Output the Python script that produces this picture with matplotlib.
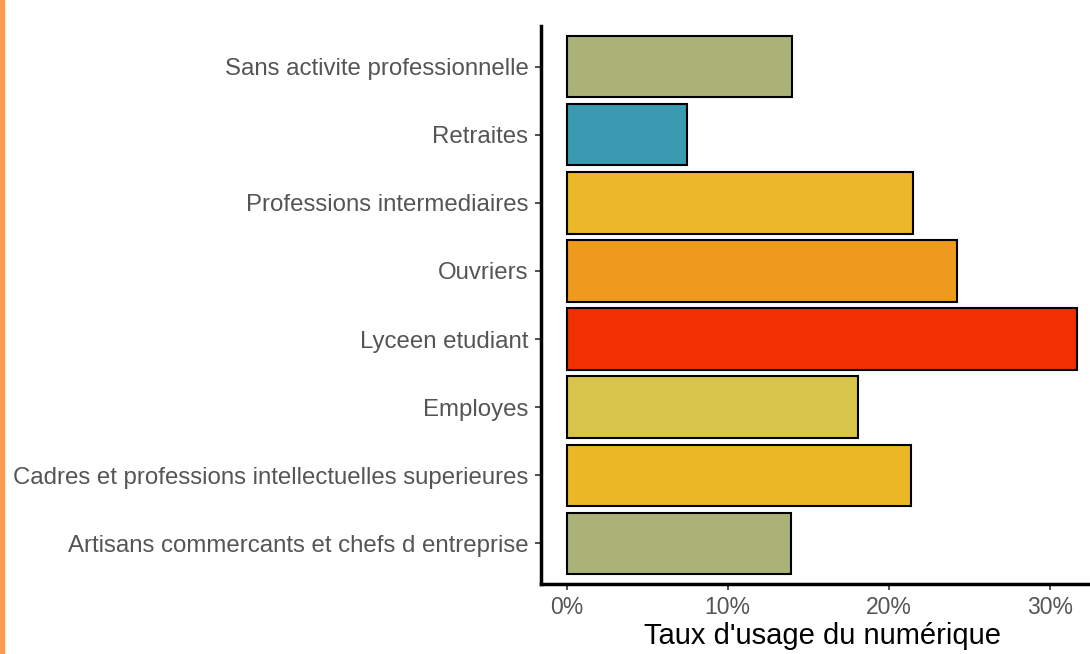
import matplotlib.pyplot as plt
from matplotlib.ticker import FuncFormatter

# categories from bottom to top
categories = [
    "Artisans commercants et chefs d entreprise",
    "Cadres et professions intellectuelles superieures",
    "Employes",
    "Lyceen etudiant",
    "Ouvriers",
    "Professions intermediaires",
    "Retraites",
    "Sans activite professionnelle",
]
rates = [13.9, 21.4, 18.1, 31.7, 24.2, 21.5, 7.5, 14.0]
colors = ["#ABB277", "#EBB727", "#D9C44B", "#F22F00", "#EE9A1F", "#EBB829", "#3A9AB2", "#ABB277"]
xticks = [0, 10, 20, 30]

plt.rcParams['font.family'] = ['Liberation Sans', 'DejaVu Sans']

fig = plt.figure(figsize=(10.9, 6.54), dpi=100)
ax = fig.add_axes([541 / 1090, 1 - 584 / 654, (1103 - 541) / 1090, (584 - 26) / 654])

ypos = list(range(len(categories)))
ax.barh(ypos, rates, height=0.9, color=colors, edgecolor="black", linewidth=1.5)

m = max(rates)
ax.set_xlim(-0.05 * m, 1.05 * m)
ax.set_ylim(-0.6, len(categories) - 0.4)
ax.set_yticks(ypos)
ax.set_yticklabels(categories)
ax.set_xticks(xticks)
ax.xaxis.set_major_formatter(FuncFormatter(lambda v, p: f"{v:.0f}%"))

for s in ["top", "right"]:
    ax.spines[s].set_visible(False)
for s in ["left", "bottom"]:
    ax.spines[s].set_linewidth(2.5)
ax.tick_params(axis="both", colors="#333333", labelcolor="#555555", length=4, width=1.2)
ax.tick_params(axis="y", pad=5, labelsize=17.3)
ax.tick_params(axis="x", pad=5, labelsize=16.5)
ax.set_xlabel("Taux d'usage du numérique", fontsize=21, color="black", labelpad=2)

# orange stripe at the left edge
fig.patches.append(plt.Rectangle((0, 0), 4 / 1090, 1, transform=fig.transFigure, color="#FF9A4D", zorder=0))

fig.savefig("out.png", dpi=100)
